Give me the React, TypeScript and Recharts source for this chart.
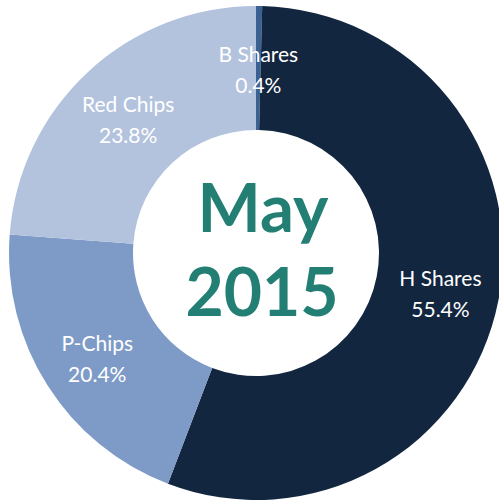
import React from "react";
import { PieChart, Pie, Cell } from "recharts";

const categories = ["B Shares", "H Shares", "P-Chips", "Red Chips"];
const shares = [0.4, 55.4, 20.4, 23.8];
const colors = ["#3b6092", "#13263f", "#7e9bc8", "#b3c3de"];
const centerLines = ["May", "2015"];

const data = categories.map((name, i) => ({ name, value: shares[i] }));
const RAD = Math.PI / 180;

const renderLabel = (props: any) => {
  const { cx, cy, midAngle, innerRadius, outerRadius, index } = props;
  const r = (innerRadius + outerRadius) / 2 + 3;
  const x = cx + r * Math.cos(-midAngle * RAD);
  const y = cy + r * Math.sin(-midAngle * RAD);
  return (
    <text
      x={x}
      y={y}
      fill="#ffffff"
      textAnchor="middle"
      fontFamily="Lato, 'Open Sans', sans-serif"
      fontSize={21}
    >
      <tspan x={x} dy={-3}>{categories[index]}</tspan>
      <tspan x={x} dy={31}>{shares[index].toFixed(1)}%</tspan>
    </text>
  );
};

export default function App() {
  return (
    <div style={{ position: "absolute", left: 0, top: 0, width: 499, height: 501, background: "#fff" }}>
      <PieChart width={499} height={501} margin={{ top: 0, right: 0, bottom: 0, left: 0 }}>
        <Pie
          data={data}
          dataKey="value"
          nameKey="name"
          cx={256}
          cy={253}
          innerRadius={123}
          outerRadius={247}
          startAngle={90}
          endAngle={-270}
          stroke="none"
          label={renderLabel}
          labelLine={false}
          isAnimationActive={false}
        >
          {data.map((d, i) => (
            <Cell key={d.name} fill={colors[i]} />
          ))}
        </Pie>
      </PieChart>
      <svg width={499} height={501} style={{ position: "absolute", left: 0, top: 0, pointerEvents: "none" }}>
        <text x={263} y={232} textAnchor="middle" fill="#237f73" fontFamily="Lato, 'Open Sans', sans-serif" fontWeight={700} fontSize={67}>
          {centerLines[0]}
        </text>
        <text x={262} y={316} textAnchor="middle" fill="#237f73" fontFamily="Lato, 'Open Sans', sans-serif" fontWeight={700} fontSize={66}>
          {centerLines[1]}
        </text>
      </svg>
    </div>
  );
}
